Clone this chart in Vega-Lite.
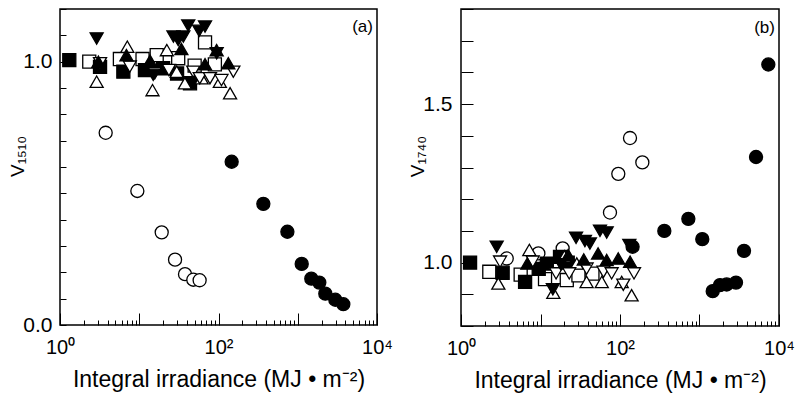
{
  "$schema": "https://vega.github.io/schema/vega-lite/v6.json",
  "padding": {"left": 8, "top": 7, "right": 0, "bottom": 0},
  "background": "white",
  "config": {
    "view": {"stroke": "black", "strokeWidth": 1.5},
    "font": "Liberation Sans",
    "axis": {"domain": false, "grid": false, "tickColor": "black", "tickWidth": 1, "tickCount": 100, "labelColor": "black", "titleColor": "black", "titleFontWeight": "normal", "labelOverlap": false, "labelFlush": false, "labelBound": false}
  },
  "datasets": {
    "pts": [
      {"p": "a", "s": "c_o", "x": 3.77, "y": 0.730},
      {"p": "a", "s": "c_o", "x": 9.46, "y": 0.509},
      {"p": "a", "s": "c_o", "x": 19.2, "y": 0.352},
      {"p": "a", "s": "c_o", "x": 28.3, "y": 0.248},
      {"p": "a", "s": "c_o", "x": 37.8, "y": 0.193},
      {"p": "a", "s": "c_o", "x": 48.1, "y": 0.172},
      {"p": "a", "s": "c_o", "x": 57.8, "y": 0.170},
      {"p": "a", "s": "c_f", "x": 146.6, "y": 0.620},
      {"p": "a", "s": "c_f", "x": 368, "y": 0.460},
      {"p": "a", "s": "c_f", "x": 740, "y": 0.354},
      {"p": "a", "s": "c_f", "x": 1122, "y": 0.232},
      {"p": "a", "s": "c_f", "x": 1483, "y": 0.176},
      {"p": "a", "s": "c_f", "x": 1871, "y": 0.161},
      {"p": "a", "s": "c_f", "x": 2228, "y": 0.119},
      {"p": "a", "s": "c_f", "x": 2978, "y": 0.096},
      {"p": "a", "s": "c_f", "x": 3758, "y": 0.079},
      {"p": "a", "s": "sq_o", "x": 2.34, "y": 1.0},
      {"p": "a", "s": "sq_o", "x": 5.7, "y": 1.01},
      {"p": "a", "s": "sq_o", "x": 11, "y": 1.01},
      {"p": "a", "s": "sq_o", "x": 16.6, "y": 1.025},
      {"p": "a", "s": "sq_o", "x": 31, "y": 1.013},
      {"p": "a", "s": "sq_o", "x": 50, "y": 0.985},
      {"p": "a", "s": "sq_o", "x": 67.6, "y": 1.073},
      {"p": "a", "s": "sq_o", "x": 90, "y": 0.99},
      {"p": "a", "s": "sq_f", "x": 1.31, "y": 1.006},
      {"p": "a", "s": "sq_f", "x": 3.2, "y": 0.98},
      {"p": "a", "s": "sq_f", "x": 6.3, "y": 0.962},
      {"p": "a", "s": "sq_f", "x": 11.8, "y": 0.968},
      {"p": "a", "s": "sq_f", "x": 20, "y": 0.975},
      {"p": "a", "s": "sq_f", "x": 30, "y": 0.955},
      {"p": "a", "s": "sq_f", "x": 43.7, "y": 0.918},
      {"p": "a", "s": "tu_o", "x": 2.9, "y": 0.924},
      {"p": "a", "s": "tu_o", "x": 7.07, "y": 1.057},
      {"p": "a", "s": "tu_o", "x": 14.7, "y": 0.892},
      {"p": "a", "s": "tu_o", "x": 22.3, "y": 1.044},
      {"p": "a", "s": "tu_o", "x": 29.7, "y": 0.962},
      {"p": "a", "s": "tu_o", "x": 37.7, "y": 0.918},
      {"p": "a", "s": "tu_o", "x": 61.3, "y": 0.937},
      {"p": "a", "s": "tu_o", "x": 104, "y": 0.924},
      {"p": "a", "s": "tu_o", "x": 140, "y": 0.88},
      {"p": "a", "s": "td_o", "x": 3.2, "y": 0.994},
      {"p": "a", "s": "td_o", "x": 7.6, "y": 0.981},
      {"p": "a", "s": "td_o", "x": 15.7, "y": 0.956},
      {"p": "a", "s": "td_o", "x": 23.7, "y": 0.968},
      {"p": "a", "s": "td_o", "x": 48, "y": 0.962},
      {"p": "a", "s": "td_o", "x": 58, "y": 0.937},
      {"p": "a", "s": "td_o", "x": 78, "y": 0.937},
      {"p": "a", "s": "td_o", "x": 109, "y": 0.93},
      {"p": "a", "s": "td_o", "x": 154, "y": 0.962},
      {"p": "a", "s": "tu_f", "x": 3.05, "y": 1.0},
      {"p": "a", "s": "tu_f", "x": 6.9, "y": 1.025},
      {"p": "a", "s": "tu_f", "x": 13.7, "y": 1.004},
      {"p": "a", "s": "tu_f", "x": 34, "y": 1.048},
      {"p": "a", "s": "tu_f", "x": 67.6, "y": 0.99},
      {"p": "a", "s": "tu_f", "x": 94.8, "y": 1.044},
      {"p": "a", "s": "tu_f", "x": 133, "y": 0.994},
      {"p": "a", "s": "td_f", "x": 2.9, "y": 1.088},
      {"p": "a", "s": "td_f", "x": 15, "y": 0.95},
      {"p": "a", "s": "td_f", "x": 27, "y": 1.095},
      {"p": "a", "s": "td_f", "x": 31, "y": 1.082},
      {"p": "a", "s": "td_f", "x": 36, "y": 1.095},
      {"p": "a", "s": "td_f", "x": 41.5, "y": 1.137},
      {"p": "a", "s": "td_f", "x": 57, "y": 1.117},
      {"p": "a", "s": "td_f", "x": 67.6, "y": 1.133},
      {"p": "a", "s": "td_f", "x": 94.8, "y": 1.032},
      {"p": "b", "s": "c_o", "x": 3.76, "y": 1.013},
      {"p": "b", "s": "c_o", "x": 9.4, "y": 1.029},
      {"p": "b", "s": "c_o", "x": 19, "y": 1.045},
      {"p": "b", "s": "c_o", "x": 74.8, "y": 1.158},
      {"p": "b", "s": "c_o", "x": 95.2, "y": 1.28},
      {"p": "b", "s": "c_o", "x": 133.6, "y": 1.393},
      {"p": "b", "s": "c_o", "x": 191, "y": 1.316},
      {"p": "b", "s": "c_f", "x": 144, "y": 1.05},
      {"p": "b", "s": "c_f", "x": 361, "y": 1.1},
      {"p": "b", "s": "c_f", "x": 724, "y": 1.138},
      {"p": "b", "s": "c_f", "x": 1084, "y": 1.074},
      {"p": "b", "s": "c_f", "x": 1466, "y": 0.91},
      {"p": "b", "s": "c_f", "x": 1811, "y": 0.929},
      {"p": "b", "s": "c_f", "x": 2198, "y": 0.931},
      {"p": "b", "s": "c_f", "x": 2877, "y": 0.937},
      {"p": "b", "s": "c_f", "x": 3630, "y": 1.037},
      {"p": "b", "s": "c_f", "x": 5140, "y": 1.333},
      {"p": "b", "s": "c_f", "x": 7340, "y": 1.625},
      {"p": "b", "s": "sq_o", "x": 2.27, "y": 0.971},
      {"p": "b", "s": "sq_o", "x": 5.63, "y": 0.962},
      {"p": "b", "s": "sq_o", "x": 11.4, "y": 0.948},
      {"p": "b", "s": "sq_o", "x": 21.4, "y": 0.945},
      {"p": "b", "s": "sq_o", "x": 30, "y": 0.96},
      {"p": "b", "s": "sq_o", "x": 45, "y": 0.965},
      {"p": "b", "s": "sq_f", "x": 1.3, "y": 1.0},
      {"p": "b", "s": "sq_f", "x": 3.34, "y": 0.968},
      {"p": "b", "s": "sq_f", "x": 6.4, "y": 0.939},
      {"p": "b", "s": "sq_f", "x": 9.5, "y": 0.98},
      {"p": "b", "s": "sq_f", "x": 12, "y": 0.997},
      {"p": "b", "s": "sq_f", "x": 17.6, "y": 1.018},
      {"p": "b", "s": "sq_f", "x": 22, "y": 1.0},
      {"p": "b", "s": "tu_o", "x": 2.95, "y": 0.934},
      {"p": "b", "s": "tu_o", "x": 7.24, "y": 1.04},
      {"p": "b", "s": "tu_o", "x": 14.5, "y": 0.905},
      {"p": "b", "s": "tu_o", "x": 20, "y": 1.02},
      {"p": "b", "s": "tu_o", "x": 28.6, "y": 0.997},
      {"p": "b", "s": "tu_o", "x": 38, "y": 0.939},
      {"p": "b", "s": "tu_o", "x": 59, "y": 0.939},
      {"p": "b", "s": "tu_o", "x": 105, "y": 0.939},
      {"p": "b", "s": "tu_o", "x": 140, "y": 0.897},
      {"p": "b", "s": "td_o", "x": 3.1, "y": 1.003},
      {"p": "b", "s": "td_o", "x": 7.98, "y": 1.003},
      {"p": "b", "s": "td_o", "x": 15.7, "y": 0.966},
      {"p": "b", "s": "td_o", "x": 23, "y": 0.966},
      {"p": "b", "s": "td_o", "x": 38, "y": 0.981},
      {"p": "b", "s": "td_o", "x": 62, "y": 0.971},
      {"p": "b", "s": "td_o", "x": 78.5, "y": 0.966},
      {"p": "b", "s": "td_o", "x": 110, "y": 0.93},
      {"p": "b", "s": "td_o", "x": 150, "y": 0.966},
      {"p": "b", "s": "tu_f", "x": 6.83, "y": 0.997},
      {"p": "b", "s": "tu_f", "x": 22.3, "y": 1.024},
      {"p": "b", "s": "tu_f", "x": 35, "y": 1.01},
      {"p": "b", "s": "tu_f", "x": 53, "y": 1.029},
      {"p": "b", "s": "tu_f", "x": 68, "y": 1.008},
      {"p": "b", "s": "tu_f", "x": 95, "y": 1.013},
      {"p": "b", "s": "tu_f", "x": 134, "y": 1.003},
      {"p": "b", "s": "td_f", "x": 2.81, "y": 1.05},
      {"p": "b", "s": "td_f", "x": 14.3, "y": 0.916},
      {"p": "b", "s": "td_f", "x": 18, "y": 0.995},
      {"p": "b", "s": "td_f", "x": 28, "y": 1.078},
      {"p": "b", "s": "td_f", "x": 36.2, "y": 1.068},
      {"p": "b", "s": "td_f", "x": 41.8, "y": 1.06},
      {"p": "b", "s": "td_f", "x": 56, "y": 1.1},
      {"p": "b", "s": "td_f", "x": 68, "y": 1.095},
      {"p": "b", "s": "td_f", "x": 131, "y": 1.055}
    ],
    "one": [{}]
  },
  "spacing": 84,
  "bounds": "flush",
  "hconcat": [
    {
      "width": 317,
      "height": 316,
      "layer": [
        {
          "data": {"name": "pts"},
          "transform": [{"filter": "datum.p == 'a'"}],
          "mark": {"type": "point", "filled": true, "opacity": 1, "stroke": "black", "strokeWidth": 1.3, "strokeOpacity": 1, "fillOpacity": 1},
          "encoding": {
            "x": {"field": "x", "type": "quantitative", "scale": {"type": "log", "domain": [1, 10000], "nice": false},
              "axis": {"values": [1,2,3,4,5,6,7,8,9,10,20,30,40,50,60,70,80,90,100,200,300,400,500,600,700,800,900,1000,2000,3000,4000,5000,6000,7000,8000,9000,10000],
                "labelExpr": "datum.value == 1 ? '10⁰' : datum.value == 100 ? '10²' : datum.value == 10000 ? '10⁴' : ''",
                "labelFontSize": {"condition": {"test": "indexof([1,100,10000], datum.value) >= 0", "value": 20}, "value": 0},
                "tickSize": {"condition": {"test": "indexof([1,10,100,1000,10000], datum.value) >= 0", "value": -12}, "value": -5},
                "labelPadding": 24,
                "title": "Integral irradiance (MJ   • m⁻²)", "titleFontSize": 23, "titlePadding": 11}},
            "y": {"field": "y", "type": "quantitative", "scale": {"domain": [0, 1.2], "nice": false, "zero": false},
              "axis": {"values": [0,0.1,0.2,0.3,0.4,0.5,0.6,0.7,0.8,0.9,1,1.1,1.2],
                "labelExpr": "datum.value == 0 || datum.value == 1 ? format(datum.value, '.1f') : ''",
                "labelFontSize": {"condition": {"test": "datum.value == 0 || datum.value == 1", "value": 21}, "value": 0},
                "tickSize": -6, "labelPadding": 14,
                "title": "V₁₅₁₀", "titleFontSize": 19, "titlePadding": -5, "titleY": 147}},
            "shape": {"field": "s", "type": "nominal", "legend": null,
              "scale": {"domain": ["sq_f","sq_o","tu_f","tu_o","td_f","td_o","c_o","c_f"], "range": ["square","square","triangle-up","triangle-up","triangle-down","triangle-down","circle","circle"]}},
            "fill": {"field": "s", "type": "nominal", "legend": null,
              "scale": {"domain": ["sq_f","sq_o","tu_f","tu_o","td_f","td_o","c_o","c_f"], "range": ["black","white","black","white","black","white","white","black"]}},
            "size": {"field": "s", "type": "nominal", "legend": null,
              "scale": {"domain": ["sq_f","sq_o","tu_f","tu_o","td_f","td_o","c_o","c_f"], "range": [170,170,230,230,230,230,125,125]}}
          }
        },
        {
          "data": {"name": "one"},
          "mark": {"type": "text", "align": "right", "baseline": "middle", "fontSize": 17, "color": "black"},
          "encoding": {"x": {"datum": 8900, "type": "quantitative"}, "y": {"datum": 1.13, "type": "quantitative"}, "text": {"value": "(a)"}}
        }
      ]
    },
    {
      "width": 318,
      "height": 317,
      "layer": [
        {
          "data": {"name": "pts"},
          "transform": [{"filter": "datum.p == 'b'"}],
          "mark": {"type": "point", "filled": true, "opacity": 1, "stroke": "black", "strokeWidth": 1.3, "strokeOpacity": 1, "fillOpacity": 1},
          "encoding": {
            "x": {"field": "x", "type": "quantitative", "scale": {"type": "log", "domain": [1, 10000], "nice": false},
              "axis": {"values": [1,2,3,4,5,6,7,8,9,10,20,30,40,50,60,70,80,90,100,200,300,400,500,600,700,800,900,1000,2000,3000,4000,5000,6000,7000,8000,9000,10000],
                "labelExpr": "datum.value == 1 ? '10⁰' : datum.value == 100 ? '10²' : datum.value == 10000 ? '10⁴' : ''",
                "labelFontSize": {"condition": {"test": "indexof([1,100,10000], datum.value) >= 0", "value": 20}, "value": 0},
                "tickSize": {"condition": {"test": "indexof([1,10,100,1000,10000], datum.value) >= 0", "value": -12}, "value": -5},
                "labelPadding": 24,
                "title": "Integral irradiance (MJ   • m⁻²)", "titleFontSize": 23, "titlePadding": 11}},
            "y": {"field": "y", "type": "quantitative", "scale": {"domain": [0.8, 1.8], "nice": false, "zero": false},
              "axis": {"values": [0.8,0.9,1,1.1,1.2,1.3,1.4,1.5,1.6,1.7,1.8],
                "labelExpr": "datum.value == 1 || datum.value == 1.5 ? format(datum.value, '.1f') : ''",
                "labelFontSize": {"condition": {"test": "datum.value == 1 || datum.value == 1.5", "value": 21}, "value": 0},
                "tickSize": -12, "labelPadding": 21,
                "title": "V₁₇₄₀", "titleFontSize": 19, "titlePadding": -5, "titleY": 147}},
            "shape": {"field": "s", "type": "nominal", "legend": null,
              "scale": {"domain": ["sq_f","sq_o","tu_f","tu_o","td_f","td_o","c_o","c_f"], "range": ["square","square","triangle-up","triangle-up","triangle-down","triangle-down","circle","circle"]}},
            "fill": {"field": "s", "type": "nominal", "legend": null,
              "scale": {"domain": ["sq_f","sq_o","tu_f","tu_o","td_f","td_o","c_o","c_f"], "range": ["black","white","black","white","black","white","white","black"]}},
            "size": {"field": "s", "type": "nominal", "legend": null,
              "scale": {"domain": ["sq_f","sq_o","tu_f","tu_o","td_f","td_o","c_o","c_f"], "range": [170,170,230,230,230,230,125,125]}}
          }
        },
        {
          "data": {"name": "one"},
          "mark": {"type": "text", "align": "right", "baseline": "middle", "fontSize": 17, "color": "black"},
          "encoding": {"x": {"datum": 8900, "type": "quantitative"}, "y": {"datum": 1.74, "type": "quantitative"}, "text": {"value": "(b)"}}
        }
      ]
    }
  ],
  "resolve": {"scale": {"shape": "independent", "fill": "independent", "size": "independent"}}
}
